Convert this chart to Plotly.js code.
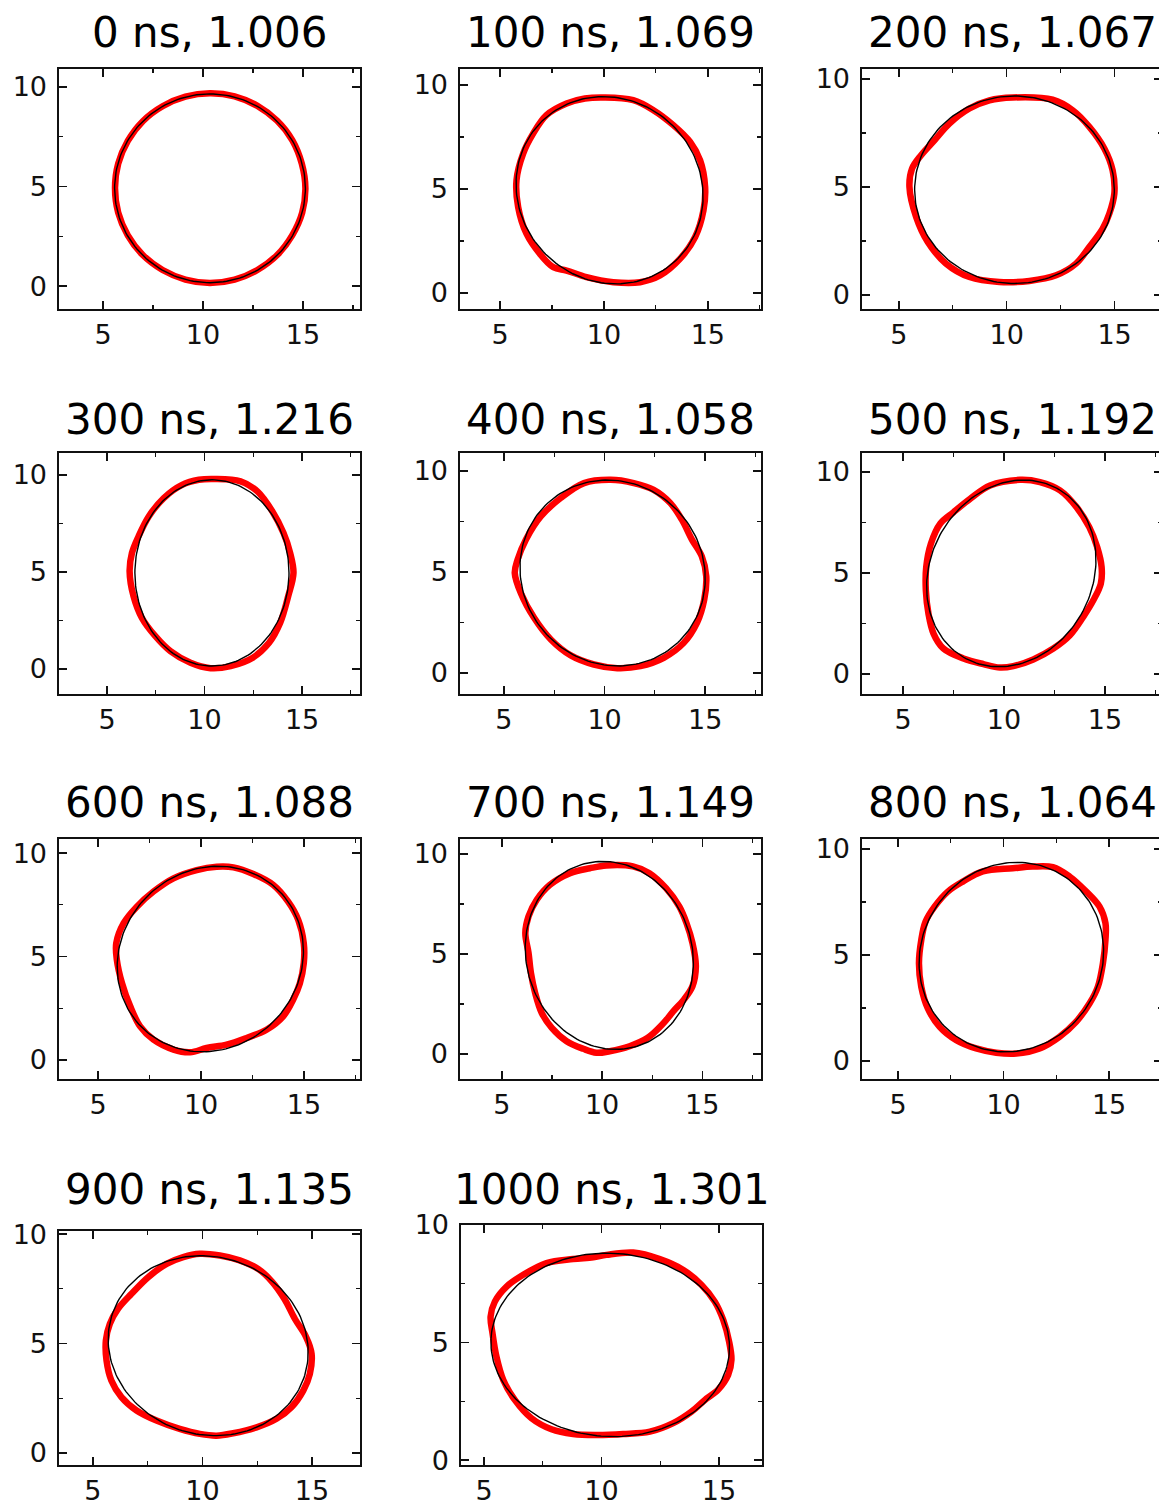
<!DOCTYPE html>
<html>
<head>
<meta charset="utf-8">
<script src="https://cdn.plot.ly/plotly-3.0.1.min.js"></script>
<style>
html,body{margin:0;padding:0;background:#fff;overflow:hidden;}
#wrap{width:1159px;height:1502px;overflow:hidden;}
#chart{width:1200px;height:1502px;}
</style>
</head>
<body>
<div id="wrap"><div id="chart"></div></div>
<script>
// ---------------- data ----------------
const TIMES_NS = [0, 100, 200, 300, 400, 500, 600, 700, 800, 900, 1000];
const RATIOS = [1.006, 1.069, 1.067, 1.216, 1.058, 1.192, 1.088, 1.149, 1.064, 1.135, 1.301];

// fitted ellipse parameters (centre, semi-axes, orientation in degrees)
const ELL_CX = [10.35, 10.27, 10.36, 10.38, 10.40, 10.36, 10.45, 10.36, 10.37, 10.26, 10.37];
const ELL_CY = [4.91, 4.94, 4.87, 4.95, 4.95, 4.98, 4.88, 4.93, 4.90, 4.90, 4.90];
const ELL_A  = [4.77, 4.65, 4.63, 4.80, 4.73, 4.78, 4.69, 4.75, 4.56, 4.61, 5.08];
const ELL_B  = [4.74, 4.35, 4.34, 3.95, 4.47, 4.01, 4.31, 4.14, 4.28, 4.06, 3.90];
const ELL_DEG = [0, 135, 0, 90, 135, 62, 42, 107, 55, 163, 177];

// measured contours (red)
const c0x = [15.12,14.94,14.47,13.71,12.72,11.58,10.35,9.12,7.98,6.99,6.24,5.76,5.60,5.76,6.24,6.99,7.98,9.12,10.35,11.58,12.72,13.71,14.46,14.96];
const c0y = [4.90,6.15,7.32,8.30,9.05,9.53,9.68,9.51,9.03,8.28,7.29,6.15,4.92,3.69,2.55,1.56,0.81,0.33,0.16,0.33,0.81,1.56,2.55,3.69];

const c1x = [10.00,11.41,12.38,13.34,14.15,14.63,14.87,14.79,14.39,13.67,12.70,11.74,10.45,9.16,8.20,7.56,6.91,6.27,5.87,5.79,6.11,6.59,7.23,8.20,9.08];
const c1y = [9.40,9.27,8.79,8.07,7.26,6.38,5.10,3.97,2.69,1.65,0.84,0.52,0.52,0.76,1.08,1.24,1.89,2.85,4.13,5.42,6.70,7.66,8.55,9.11,9.35];

const c2x = [10.28,12.13,13.06,13.83,14.53,14.91,14.99,14.76,14.45,13.83,13.21,12.29,11.05,9.66,8.27,7.19,6.34,5.80,5.49,5.61,6.03,6.65,7.34,8.27,9.20];
const c2y = [9.14,9.04,8.55,7.78,6.77,5.77,4.69,3.77,3.07,2.22,1.45,0.91,0.65,0.60,0.83,1.45,2.45,3.61,5.00,5.85,6.47,7.16,7.93,8.63,9.01];

const c3x = [10.48,11.85,12.71,13.48,14.05,14.39,14.56,14.29,13.88,13.31,12.45,11.34,10.31,9.28,8.25,7.48,6.79,6.36,6.16,6.28,6.62,7.14,7.91,8.85,9.71];
const c3y = [9.79,9.67,9.15,8.12,7.01,5.98,4.95,3.75,2.38,1.35,0.57,0.15,0.04,0.32,0.92,1.69,2.63,3.75,5.03,5.98,6.84,7.86,8.81,9.49,9.75];

const c4x = [10.30,11.45,12.44,13.27,13.84,14.34,14.83,15.05,14.95,14.59,13.93,12.94,11.78,10.63,9.47,8.32,7.33,6.50,5.84,5.54,5.68,6.09,6.83,7.82,8.98];
const c4y = [9.56,9.40,9.07,8.41,7.59,6.60,5.77,4.79,3.63,2.48,1.49,0.75,0.34,0.24,0.42,0.87,1.66,2.73,3.96,4.95,5.61,6.60,7.75,8.66,9.40];

const c5x = [10.79,11.78,12.77,13.59,14.22,14.61,14.83,14.79,14.42,13.92,13.26,12.44,11.45,10.46,9.80,8.98,7.99,7.00,6.51,6.26,6.13,6.15,6.38,6.84,7.50,8.32,9.31];
const c5y = [9.61,9.50,9.09,8.26,7.27,6.29,5.30,4.47,3.65,2.83,1.92,1.26,0.72,0.39,0.32,0.49,0.77,1.26,2.00,2.99,4.14,5.30,6.45,7.44,8.01,8.67,9.33];

const c6x = [10.76,11.57,12.54,13.51,14.23,14.72,14.99,14.99,14.80,14.47,13.99,13.18,12.21,11.24,10.27,9.47,8.66,7.69,7.04,6.56,6.16,5.91,5.88,6.24,6.88,7.69,8.66,9.79];
const c6y = [9.34,9.31,8.99,8.46,7.65,6.77,5.64,4.68,3.71,2.91,2.11,1.46,1.06,0.74,0.58,0.37,0.50,0.98,1.62,2.59,3.71,4.84,5.64,6.61,7.41,8.14,8.78,9.18];

const c7x = [10.21,11.54,12.36,13.19,13.85,14.21,14.51,14.68,14.51,14.08,13.56,13.00,12.28,11.37,10.38,9.72,9.06,8.23,7.49,6.99,6.66,6.45,6.33,6.17,6.33,6.74,7.40,8.40,9.39];
const c7y = [9.43,9.38,9.04,8.29,7.38,6.55,5.55,4.38,3.39,2.72,2.14,1.47,0.81,0.39,0.14,0.06,0.26,0.64,1.31,2.05,3.05,4.05,5.05,6.05,6.88,7.71,8.46,9.04,9.29];

const c8x = [10.44,11.39,12.34,13.13,13.92,14.55,14.83,14.83,14.71,14.47,14.08,13.44,12.65,11.71,10.60,9.65,8.70,7.76,6.97,6.41,6.10,5.99,6.10,6.30,6.73,7.36,8.07,9.02];
const c8y = [9.09,9.17,9.14,8.70,7.99,7.28,6.50,5.71,4.61,3.50,2.72,1.85,1.14,0.59,0.35,0.39,0.59,0.98,1.61,2.48,3.50,4.61,5.71,6.57,7.28,7.99,8.46,8.94];

const c9x = [9.88,10.79,11.70,12.54,13.18,13.75,14.22,14.72,14.98,14.90,14.60,14.06,13.38,12.47,11.40,10.64,9.88,8.96,7.90,6.99,6.30,5.84,5.62,5.59,5.77,6.15,6.76,7.52,8.36,9.12];
const c9y = [9.10,9.02,8.80,8.41,7.82,7.02,6.12,5.32,4.53,3.61,2.85,2.09,1.56,1.17,0.90,0.79,0.87,1.10,1.48,1.94,2.55,3.31,4.22,5.14,5.90,6.59,7.27,8.03,8.64,8.95];

const c10x = [10.21,11.35,12.48,13.48,14.26,14.82,15.18,15.43,15.53,15.39,14.96,14.40,13.83,13.05,12.06,10.92,9.79,8.79,7.87,7.02,6.31,5.82,5.53,5.36,5.28,5.46,5.96,6.67,7.66,8.79,9.65];
const c10y = [8.73,8.83,8.55,8.09,7.45,6.74,5.96,5.04,4.26,3.62,2.99,2.56,2.06,1.57,1.21,1.11,1.07,1.11,1.31,1.78,2.56,3.41,4.40,5.40,6.11,6.74,7.38,7.88,8.38,8.55,8.63];

const CONTOUR_X = [c0x, c1x, c2x, c3x, c4x, c5x, c6x, c7x, c8x, c9x, c10x];
const CONTOUR_Y = [c0y, c1y, c2y, c3y, c4y, c5y, c6y, c7y, c8y, c9y, c10y];

// tick values
const X_TICKS = [5, 10, 15];
const Y_TICKS = [0, 5, 10];

// ---------------- layout (pixel boxes and axis ranges) ----------------
const W = 1200, H = 1502;
// [left, right, top, bottom] in px
const BOXES = [
  [59, 360, 69, 309], [460, 761, 69, 309], [862, 1162, 69, 309],
  [59, 360, 453, 694], [460, 761, 453, 694], [862, 1162, 453, 694],
  [59, 360, 839, 1079], [460, 761, 839, 1079], [862, 1162, 839, 1079],
  [59, 360, 1231, 1465], [461, 762, 1225, 1465]
];
const X_RANGES = [[2.8,17.85],[3.07,17.56],[3.29,17.2],[2.54,17.97],[2.82,17.77],[2.97,17.82],[3.1,17.72],[2.91,17.93],[3.29,17.51],[3.45,17.19],[4.02,16.83]];
const Y_RANGES = [[-1.15,10.9],[-0.77,10.77],[-0.65,10.46],[-1.29,11.13],[-1.04,10.89],[-0.99,10.94],[-0.92,10.68],[-1.25,10.75],[-0.85,10.47],[-0.55,10.14],[-0.21,10.0]];
const TITLE_Y = [32, 32, 32, 419, 419, 419, 802, 802, 802, 1189, 1189];

const FONT = 'DejaVu Sans, Liberation Sans, sans-serif';
const traces = [];
const layout = {
  width: W, height: H,
  margin: {l: 0, r: 0, t: 0, b: 0},
  paper_bgcolor: '#ffffff', plot_bgcolor: '#ffffff',
  showlegend: false,
  font: {family: FONT, color: '#000'},
  annotations: []
};

for (let i = 0; i < TIMES_NS.length; i++) {
  const s = i === 0 ? '' : String(i + 1);
  const xa = 'x' + s, ya = 'y' + s;
  // ellipse
  const ex = [], ey = [];
  const th = ELL_DEG[i] * Math.PI / 180;
  const N = 180;
  for (let k = 0; k <= N; k++) {
    const t = 2 * Math.PI * k / N;
    const u = ELL_A[i] * Math.cos(t), v = ELL_B[i] * Math.sin(t);
    ex.push(ELL_CX[i] + u * Math.cos(th) - v * Math.sin(th));
    ey.push(ELL_CY[i] + u * Math.sin(th) + v * Math.cos(th));
  }
  const rx = CONTOUR_X[i].concat([CONTOUR_X[i][0]]);
  const ry = CONTOUR_Y[i].concat([CONTOUR_Y[i][0]]);
  traces.push({x: rx, y: ry, xaxis: xa, yaxis: ya, mode: 'lines', type: 'scatter',
    line: {color: '#ff0000', width: 6.5, shape: 'spline', smoothing: 1}, hoverinfo: 'skip'});
  traces.push({x: ex, y: ey, xaxis: xa, yaxis: ya, mode: 'lines', type: 'scatter',
    line: {color: '#000000', width: 1.4}, hoverinfo: 'skip'});

  const b = BOXES[i];
  const axCommon = {
    showgrid: false, zeroline: false, showline: true, linecolor: '#111', linewidth: 1.6,
    mirror: 'allticks', ticks: 'inside', ticklen: 8, tickwidth: 1.5, tickcolor: '#111',
    tickmode: 'array', tickfont: {family: FONT, size: 27, color: '#111'},
    minor: {ticks: 'inside', ticklen: 4, tickwidth: 1.2, tickcolor: '#111', dtick: 2.5, showgrid: false},
    fixedrange: true
  };
  layout['xaxis' + s] = Object.assign({}, axCommon, {
    domain: [b[0] / W, b[1] / W], range: X_RANGES[i], anchor: ya,
    tickvals: X_TICKS, ticktext: X_TICKS.map(String), ticklabelstandoff: 1
  });
  layout['yaxis' + s] = Object.assign({}, axCommon, {
    domain: [1 - b[3] / H, 1 - b[2] / H], range: Y_RANGES[i], anchor: xa,
    tickvals: Y_TICKS, ticktext: Y_TICKS.map(String), ticklabelstandoff: 5
  });
  layout.annotations.push({
    text: TIMES_NS[i] + ' ns, ' + RATIOS[i].toFixed(3),
    xref: 'paper', yref: 'paper', x: (b[0] + b[1]) / 2 / W, y: 1 - TITLE_Y[i] / H,
    xanchor: 'center', yanchor: 'middle', showarrow: false,
    font: {family: FONT, size: 42, color: '#000'}
  });
}

Plotly.newPlot('chart', traces, layout, {displayModeBar: false, staticPlot: true});
</script>
</body>
</html>
